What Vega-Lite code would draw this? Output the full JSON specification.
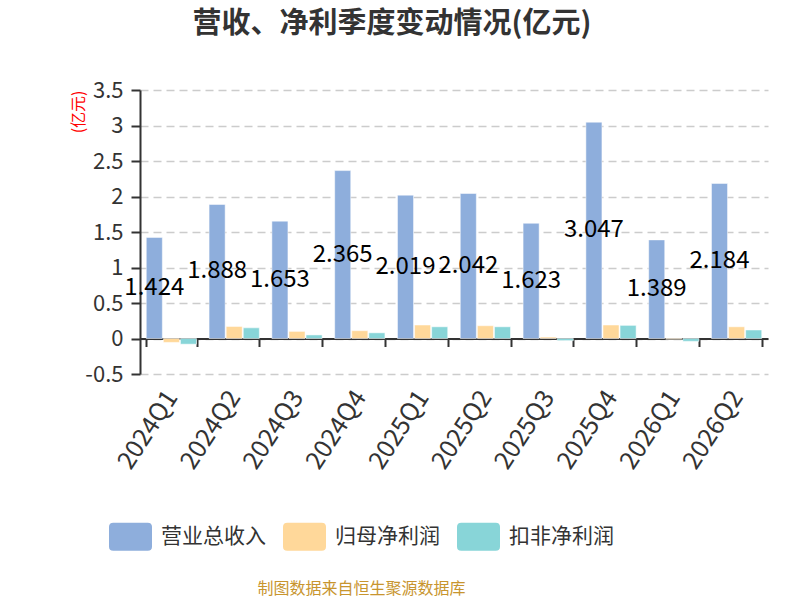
{
  "$schema": "https://vega.github.io/schema/vega-lite/v6.json",
  "autosize": "none",
  "width": 628,
  "height": 284,
  "padding": {"left": 140, "top": 90, "right": 32, "bottom": 226},
  "background": "#ffffff",
  "title": {
    "text": "营收、净利季度变动情况(亿元)",
    "font": "Noto Sans CJK SC",
    "fontSize": 29,
    "fontWeight": "bold",
    "color": "#333333",
    "anchor": "middle",
    "dx": -62,
    "offset": 40
  },
  "data": {
    "values": [
      {"q": "2024Q1", "s": "营业总收入", "v": 1.424},
      {"q": "2024Q1", "s": "归母净利润", "v": -0.055},
      {"q": "2024Q1", "s": "扣非净利润", "v": -0.08},
      {"q": "2024Q2", "s": "营业总收入", "v": 1.888},
      {"q": "2024Q2", "s": "归母净利润", "v": 0.17},
      {"q": "2024Q2", "s": "扣非净利润", "v": 0.15},
      {"q": "2024Q3", "s": "营业总收入", "v": 1.653},
      {"q": "2024Q3", "s": "归母净利润", "v": 0.1},
      {"q": "2024Q3", "s": "扣非净利润", "v": 0.05},
      {"q": "2024Q4", "s": "营业总收入", "v": 2.365},
      {"q": "2024Q4", "s": "归母净利润", "v": 0.11},
      {"q": "2024Q4", "s": "扣非净利润", "v": 0.08},
      {"q": "2025Q1", "s": "营业总收入", "v": 2.019},
      {"q": "2025Q1", "s": "归母净利润", "v": 0.19},
      {"q": "2025Q1", "s": "扣非净利润", "v": 0.165},
      {"q": "2025Q2", "s": "营业总收入", "v": 2.042},
      {"q": "2025Q2", "s": "归母净利润", "v": 0.18},
      {"q": "2025Q2", "s": "扣非净利润", "v": 0.165},
      {"q": "2025Q3", "s": "营业总收入", "v": 1.623},
      {"q": "2025Q3", "s": "归母净利润", "v": 0.02},
      {"q": "2025Q3", "s": "扣非净利润", "v": -0.03},
      {"q": "2025Q4", "s": "营业总收入", "v": 3.047},
      {"q": "2025Q4", "s": "归母净利润", "v": 0.19},
      {"q": "2025Q4", "s": "扣非净利润", "v": 0.185},
      {"q": "2026Q1", "s": "营业总收入", "v": 1.389},
      {"q": "2026Q1", "s": "归母净利润", "v": -0.01},
      {"q": "2026Q1", "s": "扣非净利润", "v": -0.04},
      {"q": "2026Q2", "s": "营业总收入", "v": 2.184},
      {"q": "2026Q2", "s": "归母净利润", "v": 0.165},
      {"q": "2026Q2", "s": "扣非净利润", "v": 0.12}
    ]
  },
  "encoding": {
    "x": {
      "field": "q",
      "type": "nominal",
      "scale": {"paddingInner": 0.2, "paddingOuter": 0.1},
      "axis": {
        "offset": -35.5,
        "tickBand": "extent",
        "tickSize": 8,
        "tickWidth": 2,
        "tickColor": "#333333",
        "domainWidth": 2,
        "domainColor": "#333333",
        "labelAngle": -57,
        "labelAlign": "right",
        "labelBaseline": "middle",
        "labelPadding": 46,
        "labelFont": "Noto Sans CJK SC",
        "labelFontSize": 25,
        "labelColor": "#333333",
        "grid": false,
        "title": "制图数据来自恒生聚源数据库",
        "titleFont": "Noto Sans CJK SC",
        "titleFontSize": 16,
        "titleFontWeight": "normal",
        "titleColor": "#C8952E",
        "titleX": 221,
        "titleY": 250,
        "titleBaseline": "middle",
        "titleAlign": "center"
      }
    },
    "xOffset": {
      "field": "s",
      "type": "nominal",
      "scale": {"domain": ["营业总收入", "归母净利润", "扣非净利润"], "paddingInner": 0.06, "paddingOuter": 0}
    },
    "y": {
      "field": "v",
      "type": "quantitative",
      "scale": {"domain": [-0.5, 3.5], "nice": false, "zero": false},
      "axis": {
        "values": [-0.5, 0, 0.5, 1, 1.5, 2, 2.5, 3, 3.5],
        "labelExpr": "'' + datum.value",
        "labelFont": "Noto Sans CJK SC",
        "labelFontSize": 22,
        "labelColor": "#333333",
        "labelPadding": 8,
        "tickSize": 9,
        "tickWidth": 2,
        "tickColor": "#333333",
        "domainWidth": 2,
        "domainColor": "#333333",
        "grid": true,
        "gridColor": "#cccccc",
        "gridDash": [8, 5],
        "gridWidth": 1.5,
        "title": "(亿元)",
        "titleFont": "Noto Sans CJK SC",
        "titleFontSize": 16,
        "titleFontWeight": "normal",
        "titleColor": "#ff0000",
        "titleAngle": -90,
        "titleAlign": "right",
        "titleBaseline": "middle",
        "titleX": -62,
        "titleY": 0
      }
    }
  },
  "layer": [
    {
      "mark": {"type": "bar", "stroke": "#ffffff", "strokeWidth": 1, "strokeOpacity": 0.5},
      "encoding": {
        "color": {
          "field": "s",
          "type": "nominal",
          "scale": {
            "domain": ["营业总收入", "归母净利润", "扣非净利润"],
            "range": ["#8EAEDC", "#FFD89A", "#88D5D8"]
          },
          "legend": {
            "title": null,
            "orient": "none",
            "direction": "horizontal",
            "legendX": -31,
            "legendY": 425,
            "symbolType": "M-0.8,-0.65 L0.8,-0.65 Q1,-0.65 1,-0.45 L1,0.45 Q1,0.65 0.8,0.65 L-0.8,0.65 Q-1,0.65 -1,0.45 L-1,-0.45 Q-1,-0.65 -0.8,-0.65 Z",
            "symbolSize": 1849,
            "symbolStrokeWidth": 0,
            "symbolOpacity": 1,
            "labelFont": "Noto Sans CJK SC",
            "labelFontSize": 21,
            "labelColor": "#333333",
            "labelOffset": 9,
            "columnPadding": 17,
            "labelLimit": 300
          }
        }
      }
    },
    {
      "transform": [
        {"filter": "datum.s === '营业总收入'"},
        {"calculate": "datum.v / 2", "as": "mid"}
      ],
      "mark": {"type": "text", "font": "Noto Sans CJK SC", "fontSize": 24, "color": "#000000", "baseline": "middle", "align": "center"},
      "encoding": {
        "y": {"field": "mid", "type": "quantitative"},
        "text": {"field": "v", "type": "quantitative", "format": ".3f"}
      }
    }
  ],
  "config": {
    "view": {"stroke": null}
  }
}
